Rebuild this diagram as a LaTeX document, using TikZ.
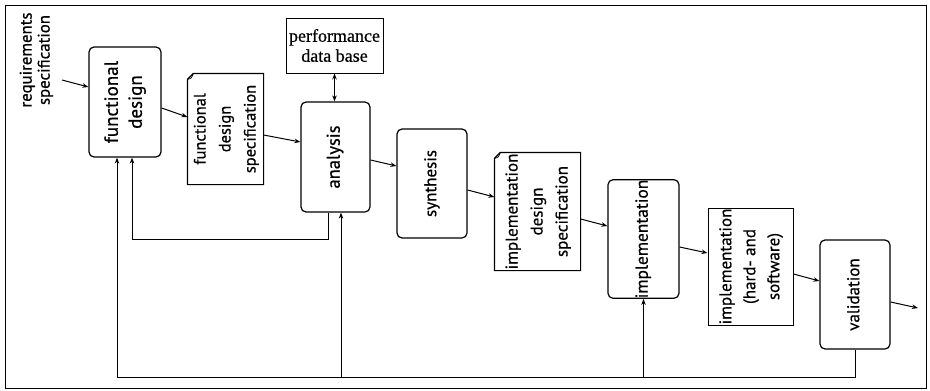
\documentclass[tikz,border=0pt]{standalone}
\usepackage{fontspec}
\setmainfont{Liberation Serif}[FakeBold=0.5]
\newfontfamily\boxfont{PT Sans}[FakeBold=0.6]
\usetikzlibrary{arrows.meta,calc}

% vertical (bottom-to-top) multi-line label: {size}{skip}{lines}
\newcommand{\vlabel}[3]{\rotatebox{90}{\fontsize{#1}{#2}\selectfont\begin{tabular}{@{}c@{}}#3\end{tabular}}}

\begin{document}
\begin{tikzpicture}[x=1pt,y=-1pt,line width=1.2pt,
  >={Stealth[length=6pt,width=4.5pt]},
  proc/.style={draw,rounded corners=5pt,inner sep=0pt,font=\boxfont},
  plainbox/.style={draw,line width=1pt,inner sep=0pt},
  docbox/.style={inner sep=0pt,font=\boxfont},
  flow/.style={->,line width=1pt},
  doc outline/.style={line width=1.2pt}]

\useasboundingbox (0,0) rectangle (930,391);
\draw[line width=1pt] (5,5) rectangle (926,388);

% processing steps and documents
\node[font=\boxfont,inner sep=0pt] (req) at (37,60) {\vlabel{16.8}{18}{requirements\\specification}};
\coordinate (reqout) at (62,80);

\node[proc,minimum width=72pt,minimum height=110pt] (fd) at (125,102)
  {\vlabel{19}{24}{functional\\design}};
\node[docbox,minimum width=75pt,minimum height=110pt] (fds) at (225.5,129)
  {\vlabel{16.5}{25}{functional\\design\\specification}};
\node[plainbox,minimum width=97pt,minimum height=55pt,align=center,
  font=\fontsize{18}{20}\selectfont] (pdb) at (334.5,45.5) {performance\\data base};
\node[proc,minimum width=69pt,minimum height=110pt] (an) at (335.5,157)
  {\vlabel{18.5}{21}{analysis}};
\node[proc,minimum width=70pt,minimum height=109pt] (syn) at (432,183.5)
  {\vlabel{17}{21}{synthesis}};
\node[docbox,minimum width=85pt,minimum height=117pt] (ids) at (537.5,211.5)
  {\vlabel{17}{25}{implementation\\design\\specification}};
\node[proc,minimum width=71pt,minimum height=116pt] (impl) at (643.5,239)
  {\vlabel{17.4}{21}{implementation}};
\node[plainbox,minimum width=85pt,minimum height=117pt,font=\boxfont] (hw) at (750.5,266.5)
  {\vlabel{17}{24}{implementation\\(hard- and\\software)}};
\node[proc,minimum width=70pt,minimum height=109pt] (val) at (855,294.5)
  {\vlabel{17}{21}{validation}};
\coordinate (out) at (918,308);

% document outlines with a folded top-left corner
\foreach \d in {fds,ids}{
  \draw[doc outline] ([yshift=-6pt]\d.north west) -- ([xshift=6pt]\d.north west)
    -- (\d.north east) -- (\d.south east) -- (\d.south west) -- cycle;
  \draw[line width=0.7pt] ([yshift=-6pt]\d.north west)
    .. controls ([xshift=4pt,yshift=-5pt]\d.north west) .. ([xshift=6pt]\d.north west);
}

% forward flow
\draw[flow] (reqout) -- ([yshift=15pt]fd.west);
\draw[flow] ([yshift=-6pt]fd.east) -- ([yshift=12pt]fds.west);
\draw[flow] ([yshift=-6pt]fds.east) -- ([yshift=15pt]an.west);
\draw[flow] ([yshift=-3pt]an.east) -- ([yshift=17.5pt]syn.west);
\draw[flow] ([yshift=-6.5pt]syn.east) -- ([yshift=14.5pt]ids.west);
\draw[flow] ([yshift=-7.5pt]ids.east) -- ([yshift=13pt]impl.west);
\draw[flow] ([yshift=-8pt]impl.east) -- ([yshift=13.5pt]hw.west);
\draw[flow] ([yshift=-7.5pt]hw.east) -- ([yshift=13.5pt]val.west);
\draw[flow] ([yshift=-7.5pt]val.east) -- (out);

% performance data base access
\draw[<->,line width=1pt] (pdb.south) -- (pdb.south |- an.north);

% feedback from analysis to functional design
\coordinate (anOut) at ([xshift=-7.5pt]an.south);
\coordinate (fdInA) at ([xshift=7pt]fd.south);
\coordinate (loopy) at (0,239);
\draw[flow] (anOut) -- (anOut |- loopy) -- (fdInA |- loopy) -- (fdInA);

% feedback from validation
\coordinate (busy) at (0,377);
\coordinate (fdInB) at ([xshift=-8pt]fd.south);
\coordinate (anIn) at ([xshift=5.5pt]an.south);
\draw[flow] (val.south) -- (val.south |- busy) -- (fdInB |- busy) -- (fdInB);
\draw[flow] (anIn |- busy) -- (anIn);
\draw[flow] (impl.south |- busy) -- (impl.south);

\end{tikzpicture}
\end{document}
